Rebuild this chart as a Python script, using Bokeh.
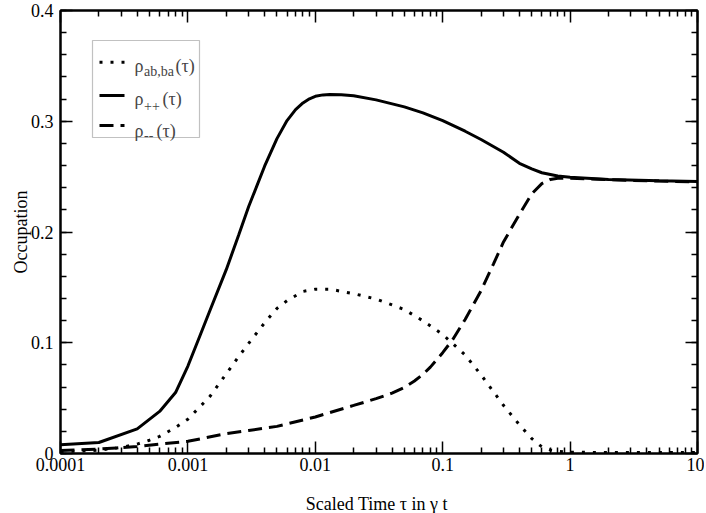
from bokeh.plotting import figure
from bokeh.models import (LogAxis, LinearAxis, FixedTicker, SingleIntervalTicker,
                          PrintfTickFormatter, BoxAnnotation, Label, Arrow, Range1d)
from bokeh.embed import file_html
from bokeh.resources import INLINE

# ---------------- data ----------------
tau_pp = [1e-4, 2e-4, 4e-4, 6e-4, 8e-4, 1e-3, 1.25e-3, 1.5e-3, 2e-3, 2.5e-3, 3e-3,
          4e-3, 5e-3, 6e-3, 7e-3, 8e-3, 9e-3, 1e-2, 1.15e-2, 1.3e-2, 1.6e-2, 2e-2, 3e-2,
          5e-2, 7e-2, 0.1, 0.15, 0.2, 0.3, 0.4, 0.5, 0.6, 0.8, 1, 2, 5, 10]
rho_pp = [0.0078, 0.0099, 0.0222, 0.038, 0.055, 0.079, 0.107, 0.130, 0.166, 0.197, 0.223,
          0.2594, 0.2843, 0.3006, 0.3105, 0.3165, 0.3203, 0.3225, 0.3238, 0.3242, 0.3239,
          0.3230, 0.3193, 0.3130, 0.3076, 0.3006, 0.2910, 0.2835, 0.2720, 0.2620, 0.2570,
          0.2535, 0.2505, 0.2495, 0.2475, 0.2462, 0.2455]

tau_ab = [1e-4, 2e-4, 3e-4, 4e-4, 5e-4, 6e-4, 8e-4, 1e-3, 1.25e-3, 1.5e-3, 2e-3, 2.5e-3,
          3e-3, 4e-3, 5e-3, 6e-3, 8e-3, 1e-2, 1.3e-2, 2e-2, 3e-2, 5e-2, 7e-2, 0.1, 0.15,
          0.2, 0.3, 0.4, 0.5, 0.6, 0.7, 0.8, 1, 2, 5, 10]
rho_ab = [0.0015, 0.003, 0.0055, 0.0085, 0.012, 0.0155, 0.0235, 0.031, 0.0425, 0.052,
          0.072, 0.0874, 0.0995, 0.118, 0.131, 0.138, 0.1463, 0.1484, 0.1484, 0.1443,
          0.1395, 0.130, 0.1198, 0.1075, 0.089, 0.071, 0.0435, 0.026, 0.0135, 0.006,
          0.0032, 0.002, 0.0012, 0.0008, 0.0008, 0.0008]

tau_mm = [1e-4, 2e-4, 4e-4, 6e-4, 1e-3, 2e-3, 3e-3, 5e-3, 1e-2, 2e-2, 3e-2, 4e-2, 5e-2,
          6e-2, 7e-2, 8e-2, 0.1, 0.12, 0.15, 0.2, 0.25, 0.3, 0.4, 0.5, 0.6, 0.7, 0.8, 1,
          2, 5, 10]
rho_mm = [0.0027, 0.004, 0.0063, 0.0085, 0.011, 0.0179, 0.0208, 0.0245, 0.033, 0.0434,
          0.0495, 0.0545, 0.0597, 0.0655, 0.0715, 0.078, 0.091, 0.103, 0.121, 0.147,
          0.171, 0.191, 0.216, 0.2345, 0.2437, 0.2475, 0.2485, 0.2485, 0.2472, 0.246,
          0.2453]

x_major_ticks = [1e-4, 1e-3, 1e-2, 1e-1, 1, 10]
x_minor_mult = [2, 3, 4, 5, 6, 7, 8, 9]
x_minor_ticks = [m * t for t in x_major_ticks[:-1] for m in x_minor_mult]

FONT = "Liberation Serif, Times New Roman, Times, DejaVu Serif, serif"
FW, FH = 637, 443

p = figure(x_axis_type="log", x_range=Range1d(1e-4, 10), y_range=Range1d(0, 0.4),
           frame_width=FW, frame_height=FH, output_backend="svg", toolbar_location=None,
           min_border_left=60, min_border_right=7, min_border_top=10, min_border_bottom=60,
           background_fill_color="white", border_fill_color="white")
p.grid.visible = False
p.outline_line_color = "black"
p.outline_line_width = 2

xt = FixedTicker(ticks=x_major_ticks, minor_ticks=x_minor_ticks)
yt = SingleIntervalTicker(interval=0.1, num_minor_ticks=5)


def style(ax, show_labels):
    ax.major_tick_in = 12
    ax.major_tick_out = 0
    ax.minor_tick_in = 6
    ax.minor_tick_out = 0
    ax.major_tick_line_width = 1.5
    ax.minor_tick_line_width = 1.5
    ax.major_tick_line_color = "black"
    ax.minor_tick_line_color = "black"
    ax.axis_line_width = 2
    ax.axis_line_color = "black"
    ax.major_label_text_font = FONT
    ax.major_label_text_color = "black"
    ax.axis_label_text_font = FONT
    ax.axis_label_text_font_style = "normal"
    ax.axis_label_text_font_size = "18px"
    ax.axis_label_text_color = "black"
    if show_labels:
        ax.major_label_text_font_size = "18px"
    else:
        ax.major_label_text_font_size = "1px"
        ax.major_label_text_alpha = 0
        ax.major_label_standoff = 0


xa = p.xaxis[0]
xa.ticker = xt
xa.formatter = PrintfTickFormatter(format="%.6g")
xa.axis_label = "Scaled Time  \u03c4 in \u03b3 t"
style(xa, True)
xa.major_label_standoff = 4
xa.axis_label_standoff = 20

ya = p.yaxis[0]
ya.ticker = yt
ya.formatter = PrintfTickFormatter(format="%.6g")
ya.axis_label = "Occupation"
style(ya, True)
ya.major_label_standoff = 7
ya.axis_label_standoff = -3

top = LogAxis(ticker=xt)
style(top, False)
p.add_layout(top, "above")
right = LinearAxis(ticker=yt)
style(right, False)
p.add_layout(right, "right")

# ---------------- curves ----------------
p.line(x=tau_ab, y=rho_ab, line_color="black", line_width=3, line_dash="3 8")
p.line(x=tau_pp, y=rho_pp, line_color="black", line_width=3)
p.line(x=tau_mm, y=rho_mm, line_color="black", line_width=3, line_dash="14 7")

# ---------------- legend (drawn by hand for subscripts) ----------------
def sy(d):  # distance from frame top -> screen y
    return FH - d

p.add_layout(BoxAnnotation(left=32, right=139, top=sy(30), bottom=sy(127),
                           left_units="screen", right_units="screen",
                           top_units="screen", bottom_units="screen",
                           fill_color="white", fill_alpha=1.0,
                           line_color="#333333", line_width=1.2, level="overlay"))

rows = [
    dict(dash="3 8", yc=51.7, base=55, sub="ab,ba", sub_base=60.7, tx=115),
    dict(dash="solid", yc=85, base=88.3, sub="++", sub_base=95.5, tx=102),
    dict(dash="14 7", yc=115, base=120, sub="--", sub_base=124, tx=96),
]
for r in rows:
    p.add_layout(Arrow(end=None, x_start=39, y_start=sy(r["yc"]), x_end=64, y_end=sy(r["yc"]),
                       start_units="screen", end_units="screen", line_color="black",
                       line_width=3, line_dash=r["dash"], level="overlay"))
    p.add_layout(Label(x=74, y=sy(r["base"]), x_units="screen", y_units="screen",
                       text="\u03c1", text_font=FONT, text_font_size="18px",
                       text_baseline="alphabetic", text_align="left", level="overlay"))
    p.add_layout(Label(x=83.5, y=sy(r["sub_base"]), x_units="screen", y_units="screen",
                       text=r["sub"], text_font=FONT, text_font_size="14px",
                       text_baseline="alphabetic", text_align="left", level="overlay"))
    p.add_layout(Label(x=r["tx"], y=sy(r["base"]), x_units="screen", y_units="screen",
                       text="(\u03c4)", text_font=FONT, text_font_size="18px",
                       text_baseline="alphabetic", text_align="left", level="overlay"))

open("out.html", "w").write(file_html(p, INLINE))
